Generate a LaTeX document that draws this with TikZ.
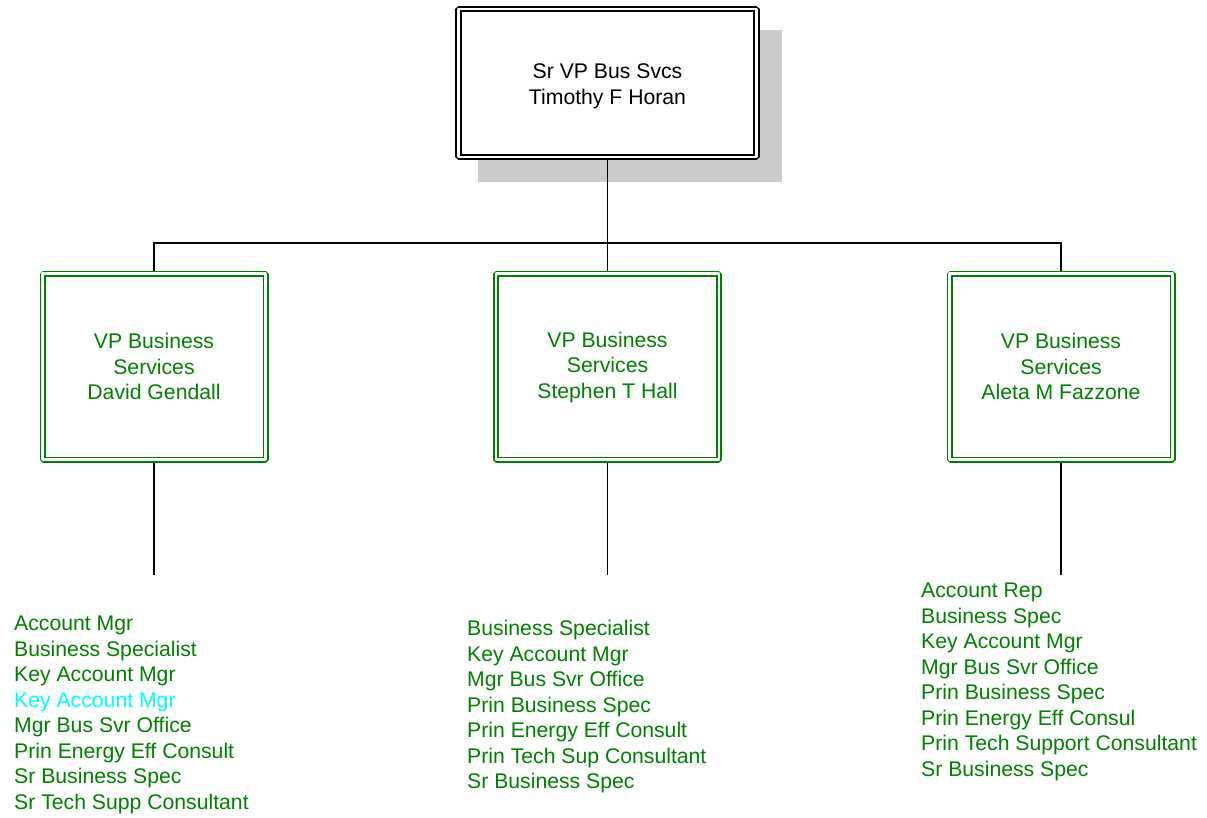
\documentclass[tikz,border=0pt]{standalone}
\usepackage{fontspec}
\setmainfont{Liberation Sans}
\usetikzlibrary{positioning,backgrounds}
\definecolor{vpgreen}{RGB}{0,128,0}
\definecolor{vpcyan}{RGB}{0,255,255}
\tikzset{
  topbox/.style={draw=black,double=white,double distance=2.4pt,line width=1.9pt,fill=white,
    minimum width=298pt,minimum height=148pt,inner sep=0pt,align=center,text=black},
  vpbox/.style={draw=vpgreen,double=white,double distance=2.8pt,line width=1.6pt,fill=white,
    minimum width=223pt,minimum height=186pt,inner sep=0pt,align=center,text=vpgreen},
  titlelist/.style={anchor=north west,inner sep=0pt,align=left,text=vpgreen},
  link/.style={draw=black,line width=1.8pt},
}

\begin{document}
\begin{tikzpicture}[x=1pt,y=-1pt,line join=bevel,
  every node/.style={font=\fontsize{21.2}{25.5}\selectfont}]
\useasboundingbox (0,0) rectangle (1207,817);
%%
\node (node_0) at (607.5,83) [topbox] {\rule{0pt}{21pt}Sr VP Bus Svcs\\Timothy F Horan};
  \node (node_1) at (154,366.5) [vpbox] {VP Business\\Services\\David Gendall};
  \node (node_2) at (607.5,366.5) [vpbox] {\rule{0pt}{17pt}VP Business\\Services\\Stephen T Hall};
  \node (node_3) at (1061,366.5) [vpbox] {VP Business\\Services\\Aleta M Fazzone};
  \node (list_1) at (14,616) [titlelist] {Account Mgr\\Business Specialist\\Key Account Mgr\\{\color{vpcyan}Key Account Mgr}\\Mgr Bus Svr Office\\Prin Energy Eff Consult\\Sr Business Spec\\Sr Tech Supp Consultant};
  \node (list_2) at (467,620) [titlelist] {Business Specialist\\Key Account Mgr\\Mgr Bus Svr Office\\Prin Business Spec\\Prin Energy Eff Consult\\Prin Tech Sup Consultant\\Sr Business Spec};
  \node (list_3) at (921,583) [titlelist] {Account Rep\\Business Spec\\Key Account Mgr\\Mgr Bus Svr Office\\Prin Business Spec\\Prin Energy Eff Consul\\Prin Tech Support Consultant\\Sr Business Spec};
  \coordinate (bus) at (607.5,243);
  \coordinate (end_1) at (154,575);
  \coordinate (end_2) at (607.5,575);
  \coordinate (end_3) at (1061,575);
\begin{scope}[on background layer]
  \fill [gray!40] ([shift={(20.5,22)}]node_0.north west) rectangle ([shift={(24.5,24)}]node_0.south east);
  \draw [link] (node_0) -- (bus);
  \draw [link] (node_1) |- (bus) -| (node_3);
  \draw [link] (bus) -- (node_2);
  \draw [link] (node_1) -- (end_1);
  \draw [link] (node_2) -- (end_2);
  \draw [link] (node_3) -- (end_3);
\end{scope}
%
\end{tikzpicture}
\end{document}
